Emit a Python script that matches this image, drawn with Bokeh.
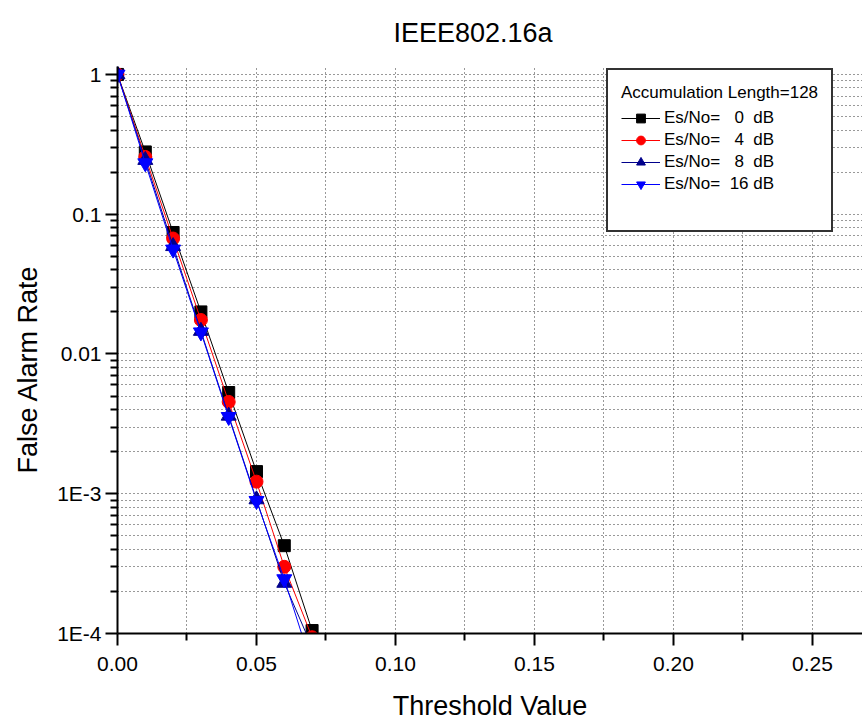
from bokeh.plotting import figure
from bokeh.models import (Range1d, FixedTicker, CustomJSTickFormatter, Legend, LegendItem, Title)
from bokeh.embed import file_html
from bokeh.resources import INLINE

# ---------------- data ----------------
threshold = [0.00, 0.01, 0.02, 0.03, 0.04, 0.05, 0.06, 0.07]
far_0db = [1.0, 0.279, 0.074, 0.0200, 0.00530, 0.00144, 4.25e-4, 1.05e-4]
far_4db = [1.0, 0.257, 0.067, 0.0175, 0.00454, 0.00122, 3.00e-4, 9.4e-5]
far_8db = [1.0, 0.244, 0.059, 0.0146, 0.00361, 9.1e-4, 2.30e-4, 8.0e-5]
far_16db = [1.0, 0.232, 0.056, 0.0143, 0.00355, 8.9e-4, 2.45e-4, 5.8e-5]

series_labels = ["Es/No=\u00a0\u00a0\u00a00\u00a0\u00a0dB",
                 "Es/No=\u00a0\u00a0\u00a04\u00a0\u00a0dB",
                 "Es/No=\u00a0\u00a0\u00a08\u00a0\u00a0dB",
                 "Es/No=\u00a0\u00a016\u00a0dB"]
legend_title = "Accumulation Length=128"
x_major = [0.00, 0.05, 0.10, 0.15, 0.20, 0.25]
x_minor = [0.025, 0.075, 0.125, 0.175, 0.225]
y_major = [1e-4, 1e-3, 1e-2, 1e-1, 1.0]
y_minor = [m * d for d in [1e-4, 1e-3, 1e-2, 1e-1] for m in range(2, 10)]

FONT = "Liberation Sans"

p = figure(width=862, height=725, output_backend="svg", toolbar_location=None,
           y_axis_type="log",
           x_range=Range1d(0.0, 0.268), y_range=Range1d(1e-4, 1.14),
           min_border_left=117, min_border_right=0, min_border_top=66, min_border_bottom=92)
p.outline_line_color = None
p.background_fill_color = "white"
p.border_fill_color = "white"

# title
t = Title(text="IEEE802.16a", align="left", offset=276, standoff=33, vertical_align="top",
          text_font=FONT, text_font_size="27px", text_font_style="normal", text_color="black")
p.add_layout(t, "above")

# y label as a side title so it can be shifted along the axis
yl = Title(text="False Alarm Rate", align="left", offset=160, standoff=20, vertical_align="top",
           text_font=FONT, text_font_size="27px", text_font_style="normal", text_color="black")
p.add_layout(yl, "left")

# axes
for ax in (p.xaxis[0], p.yaxis[0]):
    ax.axis_line_width = 2
    ax.axis_line_color = "black"
    ax.major_tick_line_width = 2
    ax.minor_tick_line_width = 2
    ax.major_tick_line_color = "black"
    ax.minor_tick_line_color = "black"
    ax.major_tick_out = 12
    ax.major_tick_in = 0
    ax.minor_tick_out = 7
    ax.minor_tick_in = 0
    ax.major_label_text_font = FONT
    ax.major_label_text_font_size = "21px"
    ax.major_label_text_color = "black"
    ax.axis_label_text_font = FONT
    ax.axis_label_text_font_size = "27px"
    ax.axis_label_text_font_style = "normal"
    ax.axis_label_text_color = "black"

p.xaxis[0].ticker = FixedTicker(ticks=x_major, minor_ticks=x_minor)
p.xaxis[0].formatter = CustomJSTickFormatter(code="return tick.toFixed(2);")
p.xaxis[0].axis_label = "Threshold Value"
p.xaxis[0].major_label_standoff = 11
p.xaxis[0].axis_label_standoff = 17

p.yaxis[0].ticker = FixedTicker(ticks=y_major, minor_ticks=y_minor)
p.yaxis[0].formatter = CustomJSTickFormatter(code="""
const e = Math.round(Math.log10(tick));
if (e == 0) return "1";
if (e == -1) return "0.1";
if (e == -2) return "0.01";
return "1E" + e;
""")
p.yaxis[0].major_label_standoff = 4

# grids
for g in (p.xgrid[0], p.ygrid[0]):
    g.grid_line_color = "#333333"
    g.grid_line_dash = "1 3"
    g.grid_line_width = 1
    g.minor_grid_line_color = "#333333"
    g.minor_grid_line_dash = "1 3"
    g.minor_grid_line_width = 1

# series
specs = [
    (far_0db, "black", "square", 12),
    (far_4db, "red", "circle", 13),
    (far_8db, "#00008B", "triangle", 15),
    (far_16db, "#0000FF", "inverted_triangle", 15),
]
items = []
for (vals, col, mk, sz), lab in zip(specs, series_labels):
    ln = p.line(threshold, vals, line_color=col, line_width=1)
    sc = p.scatter(threshold, vals, marker=mk, size=sz, fill_color=col, line_color=col)
    items.append(LegendItem(label=lab, renderers=[ln, sc]))

blank = p.line(threshold, far_0db, line_alpha=0)
items.append(LegendItem(label="\u00a0", renderers=[blank]))

leg = Legend(items=items, location=(489, 401), title=legend_title,
             title_text_font=FONT, title_text_font_size="17px", title_text_font_style="normal",
             title_text_color="black", title_standoff=4,
             label_text_font=FONT, label_text_font_size="17px", label_text_color="black",
             glyph_width=39, glyph_height=22, label_height=18, label_standoff=4,
             spacing=0, padding=13, margin=0,
             border_line_color="#333333", border_line_width=2, border_line_alpha=1.0,
             background_fill_color="white", background_fill_alpha=1.0)
p.add_layout(leg, "center")

open("out.html", "w").write(file_html(p, INLINE))
